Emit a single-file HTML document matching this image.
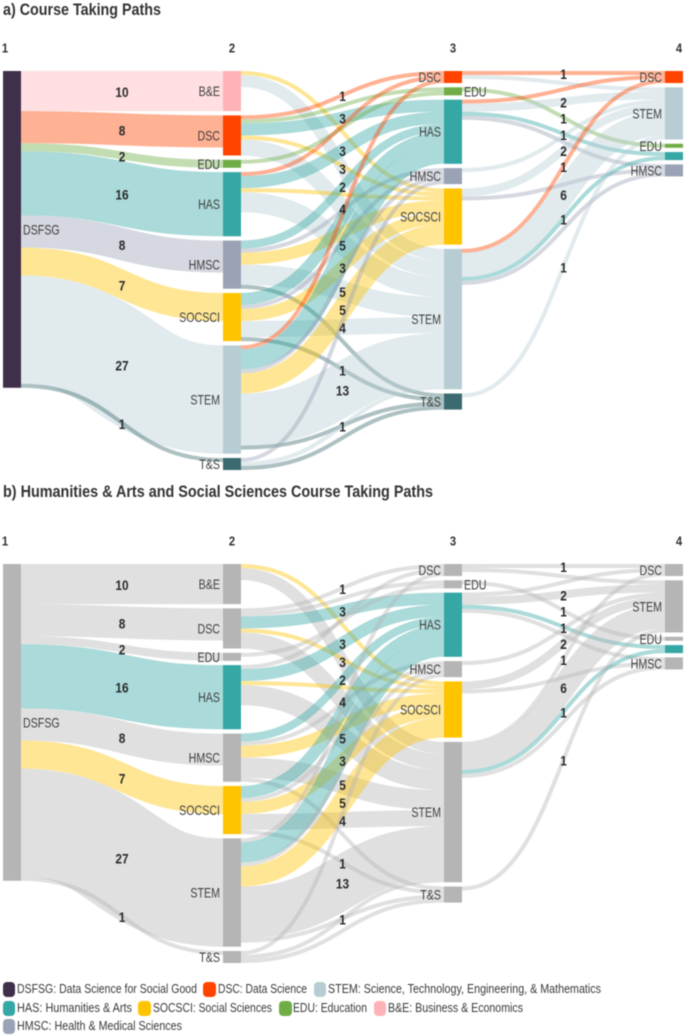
<!DOCTYPE html>
<html lang="en">
<head>
<meta charset="utf-8">
<title>Course Taking Paths</title>
<style>
html,body{margin:0;padding:0;background:#fff;}
svg{display:block;filter:blur(0.4px);font-family:"Liberation Sans",sans-serif;}
.legend-text{font-size:13px;fill:#3a3a3a;}
.title{font-size:17px;font-weight:bold;fill:#333;}
</style>
</head>
<body>
<svg id="chart" xmlns="http://www.w3.org/2000/svg" width="685" height="1036" viewBox="0 0 685 1036">
  <rect x="0" y="0" width="685" height="1036" fill="#fff"/>
  <text class="title" x="3" y="15" textLength="158" lengthAdjust="spacingAndGlyphs">a) Course Taking Paths</text>
  <text class="title" x="3" y="497" textLength="430" lengthAdjust="spacingAndGlyphs">b) Humanities &amp; Arts and Social Sciences Course Taking Paths</text>
  <g id="panel-a"></g>
  <g id="panel-b"></g>
  <g>
    <g><rect x="3" y="982" width="12" height="15" rx="4" fill="#3f2f4a"/><text class="legend-text" x="17" y="993" textLength="180" lengthAdjust="spacingAndGlyphs">DSFSG: Data Science for Social Good</text></g>
    <g><rect x="203" y="982" width="13" height="15" rx="4" fill="#ff4400"/><text class="legend-text" x="218" y="993" textLength="89" lengthAdjust="spacingAndGlyphs">DSC: Data Science</text></g>
    <g><rect x="314" y="982" width="12" height="15" rx="4" fill="#b7cdd3"/><text class="legend-text" x="328" y="993" textLength="273" lengthAdjust="spacingAndGlyphs">STEM: Science, Technology, Engineering, &amp; Mathematics</text></g>
    <g><rect x="3" y="1001" width="12" height="15" rx="4" fill="#35a7a5"/><text class="legend-text" x="17" y="1012" textLength="115" lengthAdjust="spacingAndGlyphs">HAS: Humanities &amp; Arts</text></g>
    <g><rect x="138" y="1001" width="13" height="15" rx="4" fill="#ffc400"/><text class="legend-text" x="153" y="1012" textLength="119" lengthAdjust="spacingAndGlyphs">SOCSCI: Social Sciences</text></g>
    <g><rect x="279" y="1001" width="13" height="15" rx="4" fill="#70ad47"/><text class="legend-text" x="293" y="1012" textLength="74" lengthAdjust="spacingAndGlyphs">EDU: Education</text></g>
    <g><rect x="374" y="1001" width="12" height="15" rx="4" fill="#ffb3b8"/><text class="legend-text" x="388" y="1012" textLength="135" lengthAdjust="spacingAndGlyphs">B&amp;E: Business &amp; Economics</text></g>
    <g><rect x="3" y="1019" width="12" height="15" rx="4" fill="#9aa3b5"/><text class="legend-text" x="17" y="1030" textLength="165" lengthAdjust="spacingAndGlyphs">HMSC: Health &amp; Medical Sciences</text></g>
  </g>
</svg>
<script>
// ---- data ----
const stageTitles = ['1', '2', '3', '4'];
const stage1Nodes = ['DSFSG'];
const stage2Nodes = ['B&E', 'DSC', 'EDU', 'HAS', 'HMSC', 'SOCSCI', 'STEM', 'T&S'];
const stage3Nodes = ['DSC', 'EDU', 'HAS', 'HMSC', 'SOCSCI', 'STEM', 'T&S'];
const stage4Nodes = ['DSC', 'STEM', 'EDU', 'HAS', 'HMSC'];

// [source, target, students, printed label?]
const flows12 = [
  ['DSFSG', 'B&E', 10, 1], ['DSFSG', 'DSC', 8, 1], ['DSFSG', 'EDU', 2, 1], ['DSFSG', 'HAS', 16, 1],
  ['DSFSG', 'HMSC', 8, 1], ['DSFSG', 'SOCSCI', 7, 1], ['DSFSG', 'STEM', 27, 1], ['DSFSG', 'T&S', 1, 1]
];
const flows23 = [
  ['B&E', 'SOCSCI', 1, 0], ['B&E', 'STEM', 3, 1],
  ['DSC', 'DSC', 1, 1], ['DSC', 'EDU', 1, 0], ['DSC', 'HAS', 3, 1], ['DSC', 'SOCSCI', 1, 0], ['DSC', 'STEM', 4, 1],
  ['EDU', 'EDU', 1, 0],
  ['HAS', 'DSC', 1, 0], ['HAS', 'HAS', 3, 1], ['HAS', 'SOCSCI', 1, 0], ['HAS', 'STEM', 5, 1],
  ['HMSC', 'HAS', 2, 1], ['HMSC', 'HMSC', 1, 0], ['HMSC', 'SOCSCI', 3, 0], ['HMSC', 'STEM', 5, 1], ['HMSC', 'T&S', 1, 0],
  ['SOCSCI', 'HAS', 3, 0], ['SOCSCI', 'HMSC', 1, 0], ['SOCSCI', 'SOCSCI', 3, 1], ['SOCSCI', 'STEM', 4, 1], ['SOCSCI', 'T&S', 1, 1],
  ['STEM', 'DSC', 1, 0], ['STEM', 'HAS', 5, 0], ['STEM', 'HMSC', 1, 0], ['STEM', 'SOCSCI', 5, 1], ['STEM', 'STEM', 13, 1], ['STEM', 'T&S', 1, 1],
  ['T&S', 'HMSC', 1, 0], ['T&S', 'STEM', 1, 0], ['T&S', 'T&S', 1, 0]
];
const flows34 = [
  ['DSC', 'DSC', 1, 1], ['DSC', 'STEM', 1, 0],
  ['EDU', 'EDU', 1, 1],
  ['HAS', 'DSC', 1, 0], ['HAS', 'STEM', 2, 1], ['HAS', 'HAS', 1, 1], ['HAS', 'HMSC', 1, 0],
  ['HMSC', 'STEM', 1, 0],
  ['SOCSCI', 'STEM', 2, 1], ['SOCSCI', 'HMSC', 1, 0],
  ['STEM', 'DSC', 1, 1], ['STEM', 'STEM', 6, 1], ['STEM', 'HAS', 1, 1], ['STEM', 'HMSC', 1, 0],
  ['T&S', 'STEM', 1, 1]
];
const categoryColours = {
  'DSFSG': '#3f2f4a', 'DSC': '#ff4400', 'STEM': '#b7cdd3', 'HAS': '#35a7a5', 'SOCSCI': '#ffc400',
  'EDU': '#70ad47', 'B&E': '#ffb3b8', 'HMSC': '#9aa3b5', 'T&S': '#3b6b70'
};
const highlightCategories = ['HAS', 'SOCSCI'];

// ---- layout ----
const SVGNS = 'http://www.w3.org/2000/svg';
const UNIT = 4.01, GAP = 4.3, NODE_W = 18, TOP = 71, GREY = '#b5b5b5', FLOW_ALPHA = 0.42;
const stageX = [3, 223, 444, 665];
const stages = [stage1Nodes, stage2Nodes, stage3Nodes, stage4Nodes];
const transitions = [flows12, flows23, flows34];

function slug(s) { return s.toLowerCase().replace('&', '-and-').replace(/[^a-z0-9-]/g, ''); }
function yScale(units) { return units * UNIT; }

function svgEl(tag, parent) {
  const el = document.createElementNS(SVGNS, tag);
  parent.appendChild(el);
  return el;
}

function addText(parent, str, x, y, anchor, size, weight, fill, squeeze) {
  const t = svgEl('text', parent);
  t.textContent = str;
  t.setAttribute('transform', 'translate(' + x + ' ' + y + ') scale(' + squeeze + ' 1)');
  t.setAttribute('text-anchor', anchor);
  t.setAttribute('font-size', size);
  t.setAttribute('font-weight', weight);
  t.setAttribute('fill', fill);
  return t;
}

function layoutNodes() {
  return stages.map(function (names, s) {
    let y = TOP;
    const out = {};
    names.forEach(function (name) {
      const inSum = s > 0 ? transitions[s - 1].filter(function (f) { return f[1] === name; }).reduce(function (a, f) { return a + f[2]; }, 0) : 0;
      const outSum = s < transitions.length ? transitions[s].filter(function (f) { return f[0] === name; }).reduce(function (a, f) { return a + f[2]; }, 0) : 0;
      const h = yScale(Math.max(inSum, outSum));
      out[name] = { y: y, h: h };
      y += h + GAP;
    });
    return out;
  });
}

function drawPanel(panel, dy, colourOf, panelKey) {
  const nodes = layoutNodes();

  stageTitles.forEach(function (label, i) {
    const tx = i === 0 ? 5 : (i === 3 ? 679 : stageX[i] + 9);
    const t = addText(panel, label, tx, dy + 52.5, 'middle', 12.5, 'bold', '#333', 0.9);
    
    
  });

  const labels = [];
  transitions.forEach(function (flows, s) {
    const srcOffset = {}, tgtOffset = {};
    const x0 = stageX[s] + NODE_W, x1 = stageX[s + 1];
    const xm = (x0 + x1) / 2;
    flows.forEach(function (f) {
      const src = f[0], val = yScale(f[2]);
      const sy = nodes[s][src].y + (srcOffset[src] || 0);
      srcOffset[src] = (srcOffset[src] || 0) + val;
      // the target stack follows source order, which is the array order
      const tgt = f[1];
      const ty = nodes[s + 1][tgt].y + (tgtOffset[tgt] || 0);
      tgtOffset[tgt] = (tgtOffset[tgt] || 0) + val;
      const a = sy + dy + val / 2, b = ty + dy + val / 2;
      // each link is a stroked centre line, so it keeps constant thickness through the bend
      const p = svgEl('path', panel);
      p.setAttribute('d', 'M' + x0 + ' ' + a + 'C' + xm + ' ' + a + ' ' + xm + ' ' + b + ' ' + x1 + ' ' + b);
      p.setAttribute('fill', 'none');
      p.setAttribute('stroke', colourOf(tgt));
      p.setAttribute('stroke-opacity', FLOW_ALPHA);
      p.setAttribute('stroke-width', val);
      
      
      if (f[3]) labels.push({ x: xm, y: (a + b) / 2, v: f[2], src: src, tgt: tgt, s: s });
    });
  });

  stages.forEach(function (names, s) {
    names.forEach(function (name) {
      const n = nodes[s][name];
      const r = svgEl('rect', panel);
      r.setAttribute('x', stageX[s]);
      r.setAttribute('y', n.y + dy);
      r.setAttribute('width', NODE_W);
      r.setAttribute('height', n.h);
      r.setAttribute('fill', colourOf(name));
      
      

      // the reference prints no label on the short final HAS node
      if (s === 3 && name === 'HAS') return;
      const right = s === 0 || (s === 2 && name === 'EDU');
      const lx = right ? stageX[s] + NODE_W + 2 : stageX[s] - 3;
      const t = addText(panel, name, lx, n.y + dy + n.h / 2 + 5, right ? 'start' : 'end', 13.5, 'normal', '#3f3f3f', 0.79);
      
      
    });
  });

  labels.forEach(function (l) {
    const t = addText(panel, String(l.v), l.x, l.y + 6, 'middle', 13.5, 'bold', '#2a2a2a', 0.88);
    
    
  });
}

drawPanel(document.getElementById('panel-a'), 0, function (c) { return categoryColours[c]; }, 'a');
drawPanel(document.getElementById('panel-b'), 493, function (c) {
  return highlightCategories.indexOf(c) >= 0 ? categoryColours[c] : GREY;
}, 'b');
</script>
</body>
</html>
